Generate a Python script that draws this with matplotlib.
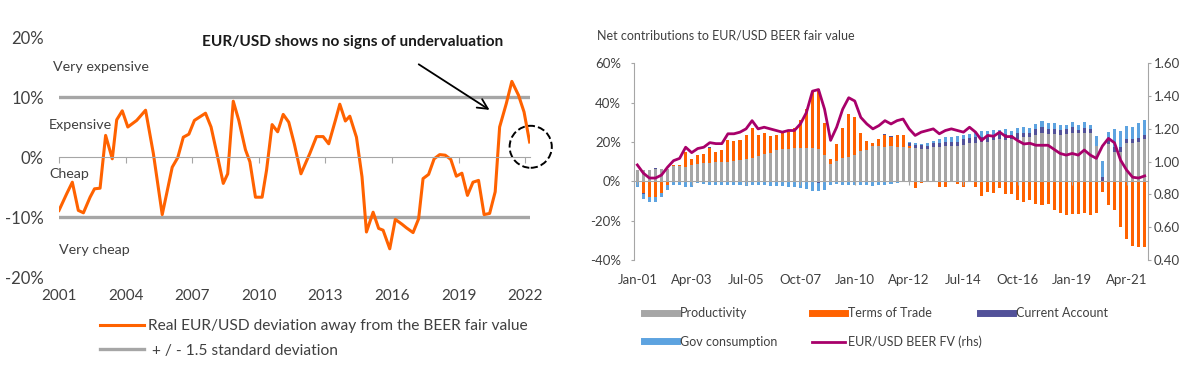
import numpy as np
import matplotlib.pyplot as plt
from matplotlib.lines import Line2D
from matplotlib.patches import Ellipse
from matplotlib.ticker import FuncFormatter

plt.rcParams['font.family'] = ['Lato', 'DejaVu Sans']
TXT = '#404040'
ORANGE = '#FF6200'
GREY = '#A6A6A6'
NAVY = '#525199'
LBLUE = '#5DA3E0'
MAGENTA = '#A8006A'

# ---- left chart: real EUR/USD deviation from BEER fair value (%)
dev_year = [2001.0, 2001.35, 2001.6, 2001.87, 2002.1, 2002.4, 2002.6, 2002.85, 2003.1, 2003.4,
            2003.6, 2003.85, 2004.1, 2004.5, 2004.9, 2005.25, 2005.65, 2005.85, 2006.1, 2006.35,
            2006.6, 2006.85, 2007.1, 2007.6, 2007.85, 2008.1, 2008.4, 2008.6, 2008.85, 2009.1,
            2009.4, 2009.6, 2009.85, 2010.15, 2010.35, 2010.6, 2010.85, 2011.1, 2011.35, 2011.6,
            2011.9, 2012.3, 2012.6, 2012.9, 2013.15, 2013.45, 2013.65, 2013.9, 2014.1, 2014.4,
            2014.65, 2014.85, 2015.15, 2015.4, 2015.6, 2015.9, 2016.15, 2016.45, 2016.65, 2016.95,
            2017.2, 2017.4, 2017.65, 2017.9, 2018.15, 2018.4, 2018.65, 2018.9, 2019.15, 2019.4,
            2019.65, 2019.9, 2020.15, 2020.4, 2020.65, 2020.85, 2021.15, 2021.4, 2021.7, 2021.95,
            2022.2]
dev_value = [-8.9, -6.1, -4.2, -8.9, -9.3, -6.7, -5.3, -5.2, 3.6, -0.3,
             6.2, 7.7, 5.0, 6.1, 7.8, 0.6, -9.6, -6.1, -1.7, -0.1,
             3.3, 3.8, 6.1, 7.3, 5.0, 0.8, -4.4, -2.8, 9.3, 6.1,
             1.2, -0.8, -6.7, -6.7, -2.2, 5.4, 4.2, 7.1, 5.8, 2.2,
             -2.8, 0.6, 3.4, 3.4, 2.2, 6.1, 8.8, 6.0, 6.8, 3.3,
             -3.3, -12.5, -9.2, -11.9, -12.2, -15.3, -10.4, -11.2, -11.8, -12.6,
             -10.3, -3.6, -2.9, -0.3, 0.4, 0.3, -0.4, -3.2, -2.7, -6.4,
             -4.2, -3.9, -9.6, -9.4, -5.8, 5.0, 8.9, 12.6, 10.3, 7.5,
             2.5]
band = 10  # +/- 1.5 standard deviation
year_ticks = [2001, 2004, 2007, 2010, 2013, 2016, 2019, 2022]

# ---- right chart: quarterly contributions (%), Jan-01 .. Jan-22
productivity = [5.8, 5.8, 5.8, 6.3, 6.1, 6.1, 7.8, 7.8, 7.5, 8.3,
                9, 9.3, 9.5, 9.7, 10, 10, 10.5, 11, 11.5, 12,
                13, 13.9, 14.2, 15.9, 16.3, 16.4, 16.8, 17.1, 17.1, 17,
                16.3, 13.4, 8.8, 10.3, 11.7, 12.5, 13.4, 15.4, 15.9, 18,
                18.1, 17.6, 17.8, 17.3, 17.3, 16.8, 16.8, 16.6, 16.3, 17.3,
                17.6, 18, 18, 18, 18.5, 19.3, 19.7, 20.2, 20.2, 21,
                21.4, 21, 21.4, 21.7, 22.4, 22.7, 23.7, 24.4, 24.1, 24.1,
                23.6, 24.1, 24.7, 24.4, 24.7, 24.7, 18, 0.4, 19, 15.1,
                15.1, 19.3, 19.7, 20.2, 21.4]
terms_of_trade = [0, -5.8, -7.8, -8.1, -5.8, -1.9, 0.5, 0.5, 7.6, 2.9,
                  4.2, 4.4, 7.5, 5.0, 5.8, 10.8, 10, 10, 11.9, 15.3,
                  10.4, 10.5, 8.8, 7.5, 8.4, 8.5, 10.2, 14.1, 19.5, 28.6,
                  30.5, 16.1, 2.4, 8.7, 15.3, 21.5, 19.5, 9, 4.6, 1.7,
                  3.4, 6.0, 4.7, 6, 6, 1.2, -3.6, -0.7, 0, 0,
                  -3, -2.7, -0.5, -1.4, -2.7, 0, -3, -7.5, -5.3, -5.8,
                  -3.6, -6.6, -6.4, -9.5, -10.3, -9.5, -11.5, -12.2, -11.5, -14.6,
                  -15.9, -17.1, -16.8, -16.6, -15.9, -17.1, -15.9, -5.3, -12, -14.6,
                  -23.4, -29.5, -32.9, -33.2, -33.6]
current_account = [0, -0.5, -0.4, 0.3, 0, 0, 0, 0, 0, 0,
                   0.2, 0, 0.2, 0, 0, 0.2, 0, 0, 0, 0,
                   0, 0, 0, 0.3, 0, 0, 0, 0, 0, -0.5,
                   -0.6, -0.5, -0.4, 0, 0.3, 0, 0, 0, 0, 0,
                   0, 0.3, 0.3, 0.3, 0.3, 1.3, 1.7, 1.9, 1.7, 2,
                   2.1, 2.2, 2, 2, 2.9, 2.6, 2.9, 2.5, 2.9, 2.5,
                   2.7, 3, 2.2, 2.7, 2.4, 2.1, 2.7, 3.4, 2.4, 2.4,
                   2.5, 2.4, 2.7, 1.7, 2.2, 1.7, 0, 1.7, 2, 2.5,
                   2.5, 2, 1.7, 1.7, 2.2]
gov_consumption = [-2.7, -2.5, -2.5, -2.2, -2, -2.5, -1.9, -1.9, -3, -3,
                   -1, -1.2, -2, -2, -2, -2, -1.7, -2, -2.2, -2,
                   -2, -2, -2.2, -2.5, -2.5, -3, -3, -3.5, -4, -4.5,
                   -4.5, -4, -1.5, -1.5, -2, -2, -2, -2, -2, -2.2,
                   -2, -2, -1.4, -0.7, 0, 0.9, 0.8, 0.5, 1.7, 1.4,
                   1.8, 2.5, 2.4, 3, 2.2, 2.1, 2.7, 2.9, 2.7, 2.6,
                   2.1, 2.4, 2.2, 2.6, 3, 2.2, 2.8, 2.7, 3, 3.3,
                   2.5, 2.2, 2.8, 2.5, 3.4, 2.2, 5.2, 8.4, 4.3, 8.8,
                   8.2, 7.0, 6.4, 7.9, 7.6]
beer_fv = [0.98, 0.93, 0.90, 0.90, 0.918, 0.966, 1.006, 1.02, 1.088, 1.055,
           1.08, 1.088, 1.116, 1.11, 1.11, 1.17, 1.17, 1.18, 1.20, 1.25,
           1.20, 1.21, 1.20, 1.19, 1.18, 1.19, 1.19, 1.23, 1.30, 1.43,
           1.44, 1.32, 1.13, 1.21, 1.32, 1.39, 1.37, 1.27, 1.23, 1.20,
           1.22, 1.25, 1.23, 1.25, 1.26, 1.20, 1.16, 1.18, 1.19, 1.20,
           1.17, 1.19, 1.20, 1.19, 1.18, 1.21, 1.18, 1.13, 1.16, 1.155,
           1.18, 1.153, 1.153, 1.128, 1.108, 1.112, 1.10, 1.10, 1.10, 1.075,
           1.05, 1.04, 1.05, 1.04, 1.071, 1.04, 1.02, 1.095, 1.142, 1.115,
           1.01, 0.949, 0.905, 0.90, 0.913]
quarter_labels = ['Jan-01', 'Apr-03', 'Jul-05', 'Oct-07', 'Jan-10',
                  'Apr-12', 'Jul-14', 'Oct-16', 'Jan-19', 'Apr-21']

fig = plt.figure(figsize=(12, 3.67), dpi=100)

# ================= left panel =================
ax1 = fig.add_axes([59/1200, 1-277/367, 470.6/1200, 240/367])
ax1.axhline(band, color=GREY, lw=2.4, label=' + / - 1.5 standard deviation')
ax1.axhline(-band, color=GREY, lw=2.4)
ax1.plot(dev_year, dev_value, color=ORANGE, lw=2.2,
         label='Real EUR/USD deviation away from the BEER fair value')
ax1.set_xlim(2001, 2022.2)
ax1.set_ylim(-20, 20)
for s in ['top', 'right', 'left']:
    ax1.spines[s].set_visible(False)
ax1.spines['bottom'].set_position(('data', 0))
ax1.spines['bottom'].set_color(GREY)
ax1.set_xticks(year_ticks)
ax1.tick_params(axis='x', direction='out', length=4, color=GREY, labelbottom=False)
ax1.set_yticks([-20, -10, 0, 10, 20])
ax1.yaxis.set_major_formatter(FuncFormatter(lambda v, p: f'{v:.0f}%'))
ax1.tick_params(axis='y', length=0, pad=11, labelsize=12, labelcolor=TXT)
sec1 = ax1.secondary_xaxis('bottom')
sec1.set_xticks(year_ticks)
sec1.spines['bottom'].set_visible(False)
sec1.tick_params(length=0, pad=9, labelsize=11, labelcolor=TXT)

ax1.text(2000.75, 15, 'Very expensive', fontsize=10.3, color=TXT, va='center')
ax1.text(2000.55, 5.3, 'Expensive', fontsize=10.3, color=TXT, va='center')
ax1.text(2000.55, -2.8, 'Cheap', fontsize=10.3, color=TXT, va='center')
ax1.text(2001.0, -15.5, 'Very cheap', fontsize=10.3, color=TXT, va='center')
ax1.text(2014.25, 19.2, 'EUR/USD shows no signs of undervaluation', fontsize=11.1,
         fontweight='bold', color='#1a1a1a', ha='center', va='center')
ax1.annotate('', xy=(2020.5, 7.6), xytext=(2017.1, 15.7),
             arrowprops=dict(arrowstyle='->', color='black', lw=1.3, mutation_scale=18))
ax1.add_patch(Ellipse((2022.25, 1.7), 1.9, 7.0, fill=False, ls='--', lw=1.4,
                      ec='black', clip_on=False))
h, l = ax1.get_legend_handles_labels()
fig.legend(h[::-1], l[::-1], loc='upper left', bbox_to_anchor=(100/1200, 1-319/367),
           frameon=False, fontsize=11.2, labelcolor=TXT, handlelength=2.8,
           handletextpad=0.3, labelspacing=0.7, borderpad=0, borderaxespad=0)

# ================= right panel =================
ax2 = fig.add_axes([634.3/1200, 1-260/367, 513.4/1200, 196.7/367])
x = np.arange(len(productivity))
series = [(productivity, GREY), (terms_of_trade, ORANGE),
          (current_account, NAVY), (gov_consumption, LBLUE)]
pos = np.zeros(len(x))
neg = np.zeros(len(x))
for vals, col in series:
    v = np.array(vals, dtype=float)
    base = np.where(v >= 0, pos, neg)
    ax2.bar(x, v, 0.5, bottom=base, color=col, lw=0)
    pos = pos + np.clip(v, 0, None)
    neg = neg + np.clip(v, None, 0)
ax2.set_xlim(-0.5, 84.5)
ax2.set_ylim(-40, 60)
ax2.set_yticks([-40, -20, 0, 20, 40, 60])
ax2.yaxis.set_major_formatter(FuncFormatter(lambda v, p: f'{v:.0f}%'))
ax2.tick_params(axis='y', direction='out', length=2.5, color=GREY, pad=7,
                labelsize=9.5, labelcolor=TXT)
for s in ['top', 'right']:
    ax2.spines[s].set_visible(False)
ax2.spines['left'].set_color(GREY)
ax2.spines['bottom'].set_position(('data', 0))
ax2.spines['bottom'].set_color(GREY)
ax2.set_xticks(np.arange(0, 85, 9))
ax2.tick_params(axis='x', direction='out', length=3, color=GREY, labelbottom=False)
sec2 = ax2.secondary_xaxis('bottom')
sec2.set_xticks(np.arange(0, 85, 9))
sec2.set_xticklabels(quarter_labels)
sec2.spines['bottom'].set_visible(False)
sec2.tick_params(length=0, pad=10, labelsize=9.5, labelcolor=TXT)

ax3 = ax2.twinx()
ax3.plot(x, beer_fv, color=MAGENTA, lw=2)
ax3.set_ylim(0.4, 1.6)
ax3.set_yticks(np.arange(0.4, 1.61, 0.2))
ax3.yaxis.set_major_formatter(FuncFormatter(lambda v, p: f'{v:.2f}'))
ax3.tick_params(axis='y', direction='out', length=2.5, color=GREY, pad=2,
                labelsize=9.5, labelcolor=TXT)
for s in ['top', 'left', 'bottom']:
    ax3.spines[s].set_visible(False)
ax3.spines['right'].set_color(GREY)

fig.text(597/1200, 1-35/367, 'Net contributions to EUR/USD BEER fair value',
         fontsize=9, color=TXT, va='center')

legend_cols = [
    ([Line2D([], [], color=GREY, lw=5), Line2D([], [], color=LBLUE, lw=5)],
     ['Productivity', 'Gov consumption'], 644),
    ([Line2D([], [], color=ORANGE, lw=5), Line2D([], [], color=MAGENTA, lw=2)],
     ['Terms of Trade', 'EUR/USD BEER FV (rhs)'], 812),
    ([Line2D([], [], color=NAVY, lw=5)], ['Current Account'], 980),
]
for hd, lb, xpx in legend_cols:
    fig.legend(hd, lb, loc='upper left', bbox_to_anchor=(xpx/1200, 1-307/367),
               frameon=False, fontsize=9, labelcolor=TXT, handlelength=2.6,
               handletextpad=0.3, labelspacing=1.34, borderpad=0, borderaxespad=0)

fig.savefig('out.png', dpi=100)
